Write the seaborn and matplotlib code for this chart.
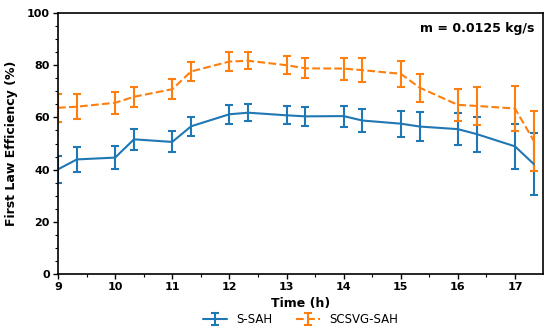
import matplotlib
matplotlib.use("Agg")
import matplotlib.pyplot as plt
import seaborn as sns
import pandas as pd
from matplotlib.ticker import MultipleLocator

time_h = [9, 9.33, 10, 10.33, 11, 11.33, 12, 12.33, 13, 13.33, 14, 14.33, 15, 15.33, 16, 16.33, 17, 17.33]
s_sah = [40.1, 43.9, 44.6, 51.6, 50.6, 56.6, 61.2, 61.8, 60.8, 60.4, 60.5, 58.8, 57.6, 56.5, 55.5, 53.6, 48.9, 42.1]
s_sah_err = [5.3, 4.8, 4.4, 4.0, 4.0, 3.7, 3.6, 3.3, 3.4, 3.7, 4.0, 4.5, 5.0, 5.4, 6.0, 6.7, 8.7, 11.9]
scsvg_sah = [63.7, 64.1, 65.6, 67.9, 70.8, 77.6, 81.4, 81.7, 80.0, 78.8, 78.7, 78.1, 76.7, 71.4, 64.8, 64.4, 63.4, 51.0]
scsvg_sah_err = [5.4, 4.7, 4.3, 3.9, 3.8, 3.6, 3.5, 3.3, 3.5, 3.8, 4.2, 4.5, 5.1, 5.4, 6.0, 7.3, 8.8, 11.6]
series_names = ["S-SAH", "SCSVG-SAH"]

sns.set_theme(style="ticks")
plt.rcParams['font.family'] = ['DejaVu Sans']
plt.rcParams['text.color'] = 'black'
plt.rcParams['xtick.color'] = 'black'
plt.rcParams['ytick.color'] = 'black'
plt.rcParams['axes.labelcolor'] = 'black'

df = pd.DataFrame({"Time": time_h * 2,
                   "Eff": s_sah + scsvg_sah,
                   "Err": s_sah_err + scsvg_sah_err,
                   "Series": [series_names[0]] * len(time_h) + [series_names[1]] * len(time_h)})

fig = plt.figure(figsize=(5.5, 3.34), dpi=100)
ax = fig.add_axes([58/550, 1 - 274/334, (543-58)/550, (274-13)/334])

colors = ["#1f77b4", "#ff7f0e"]
styles = ["-", "--"]
for name, col, ls in zip(series_names, colors, styles):
    d = df[df["Series"] == name]
    ax.errorbar(d["Time"], d["Eff"], yerr=d["Err"], color=col, ls=ls, lw=1.5,
                capsize=3, elinewidth=1.5, capthick=1.5, label=name)

ax.set_xlim(9, 17.49)
ax.set_ylim(0, 100)
ax.xaxis.set_major_locator(MultipleLocator(1))
ax.xaxis.set_minor_locator(MultipleLocator(0.5))
ax.yaxis.set_major_locator(MultipleLocator(20))
ax.yaxis.set_minor_locator(MultipleLocator(5))
ax.tick_params(which="major", length=3.5, width=1, labelsize=8, pad=2.5)
ax.tick_params(which="minor", length=2, width=0.8)
for lab in ax.get_xticklabels() + ax.get_yticklabels():
    lab.set_fontweight("bold")
for sp in ax.spines.values():
    sp.set_visible(True)
    sp.set_linewidth(1.2)
    sp.set_color("black")

ax.set_xlabel("Time (h)", fontsize=9, fontweight="bold", labelpad=3)
ax.set_ylabel("First Law Efficiency (%)", fontsize=9, fontweight="bold", labelpad=6)
ax.text(0.983, 0.965, "m = 0.0125 kg/s", transform=ax.transAxes, ha="right", va="top",
        fontsize=9, fontweight="bold")

ax.legend(loc="center", bbox_to_anchor=(0.5, -0.176), ncol=2, frameon=False,
          fontsize=8.5, handlelength=2.0, handletextpad=0.8, columnspacing=2.0)

fig.savefig("out.png", dpi=100)
